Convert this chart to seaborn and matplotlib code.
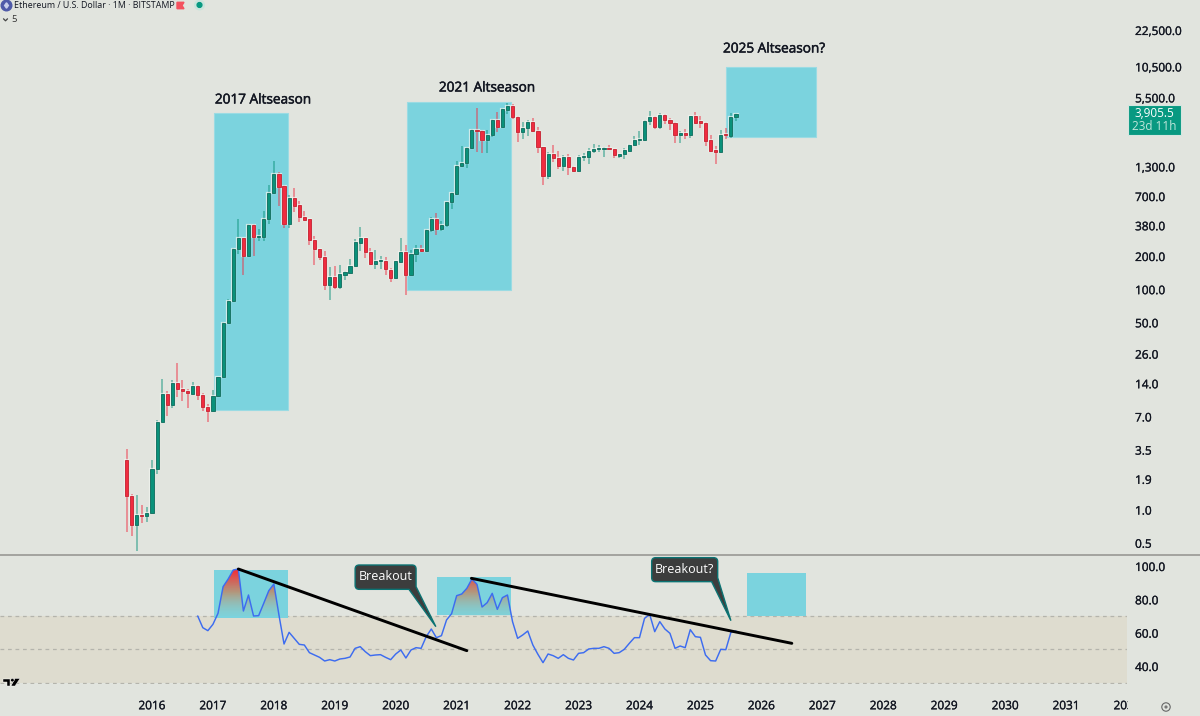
"""Ethereum monthly candles with RSI pane, TradingView style."""

import matplotlib

matplotlib.use("Agg")
import matplotlib.patheffects as pe
import matplotlib.pyplot as plt
import numpy as np
import pandas as pd
import seaborn as sns
from matplotlib.colors import LinearSegmentedColormap
from matplotlib.patches import Circle, PathPatch, Polygon, Rectangle
from matplotlib.path import Path
from matplotlib.transforms import Bbox

BG = "#e1e4de"
BAND = "#dedccf"
ZONE = "#7bd3de"
UP, UP_EDGE = "#0a917a", "#0b6a5a"
DOWN, DOWN_EDGE = "#f02c40", "#c4202f"
TEXT = "#131722"

# months counted from Jan 2016
first_candle_month = -5
first_rsi_month = 9

opens = [2.82, 1.33, 0.72, 0.90, 0.87, 0.93, 2.35, 6.28, 11.3, 8.8, 14.1, 12.5, 12.0, 11.3, 13.2, 10.9, 8.6, 7.9, 10.7, 15.8,
         49.5, 78.5, 232, 292, 199, 386, 298, 300, 430, 745, 1120, 862, 390, 670, 578, 453, 430, 280, 232, 197,
         110, 130, 105, 135, 141, 163, 264, 292, 219, 170, 179, 181, 150, 126, 178, 218, 135, 207, 230, 222,
         345, 434, 354, 386, 617, 738, 1310, 1400, 1900, 2784, 2710, 2260, 2500, 3430, 2970, 4230, 4620, 3680, 2670, 2910,
         3290, 2740, 1940, 1070, 1680, 1550, 1320, 1570, 1285, 1190, 1580, 1590, 1780, 1860, 1870, 1920, 1860, 1620, 1670, 1780,
         2030, 2250, 2260, 3340, 3660, 2970, 3790, 3430, 3230, 2520, 2600, 2500, 3730, 3340, 3250, 2250, 1820, 1770, 2540, 2470,
         3680]
closes = [1.33, 0.72, 0.90, 0.87, 0.93, 2.35, 6.28, 11.3, 8.8, 14.1, 12.3, 11.8, 11.5, 13.2, 10.9, 8.6, 7.9, 10.7, 15.8, 49.5,
          78.5, 232, 292, 199, 386, 300, 304, 434, 750, 1120, 851, 390, 670, 570, 453, 425, 278, 232, 197, 110,
          130, 105, 137, 143, 163, 268, 292, 219, 170, 181, 184, 151, 127, 179, 218, 135, 207, 230, 222, 345,
          434, 354, 386, 620, 745, 1310, 1410, 1920, 2784, 2710, 2260, 2520, 3430, 2970, 4310, 4620, 3660, 2670, 2910, 3290,
          2720, 1940, 1070, 1680, 1550, 1320, 1570, 1275, 1190, 1580, 1610, 1810, 1860, 1900, 1920, 1860, 1650, 1690, 1830, 2030,
          2260, 2300, 3340, 3630, 2970, 3790, 3400, 3210, 2520, 2600, 2520, 3730, 3250, 3250, 2220, 1780, 1770, 2520, 2490, 3680,
          3905.5]
highs = [3.57, 1.37, 1.35, 1.10, 1.05, 2.84, 6.55, 15.3, 11.8, 15.1, 21.5, 14.9, 12.5, 14.4, 13.6, 11.5, 9.0, 12.1, 16.0, 50,
         81.7, 237, 430, 292, 391, 391, 354, 517, 890, 1450, 1150, 875, 710, 830, 632, 513, 430, 304, 232, 223,
         160, 163, 165, 147, 187, 286, 370, 292, 237, 226, 202, 195, 155, 181, 291, 253, 227, 253, 253, 352,
         455, 488, 418, 620, 765, 1470, 1990, 1950, 2840, 4400, 2784, 2784, 3500, 4080, 4400, 4930, 4800, 3740, 3290, 3430,
         3580, 2970, 1950, 1770, 2030, 1800, 1650, 1680, 1320, 1650, 1715, 1920, 2060, 2030, 1950, 2030, 1870, 1700, 1900, 2060,
         2470, 2700, 3430, 4150, 3740, 3960, 3890, 3570, 3290, 2740, 2830, 3730, 4080, 3730, 3300, 2520, 1990, 2784, 2880, 3960,
         4000]
lows = [0.63, 0.57, 0.425, 0.75, 0.77, 0.93, 2.12, 6.28, 7.1, 8.4, 10.6, 9.7, 8.4, 11.3, 9.9, 7.9, 6.2, 7.9, 10.5, 15.5,
        49.5, 77, 208, 135, 199, 199, 275, 276, 390, 745, 570, 360, 360, 505, 408, 420, 253, 167, 185, 98.7,
        80, 101, 100, 122, 141, 163, 220, 192, 165, 153, 153, 135, 117, 126, 178, 89, 135, 176, 218, 222,
        327, 312, 335, 368, 535, 715, 1310, 1260, 1865, 1740, 1715, 1715, 2400, 2650, 2900, 3920, 3480, 2180, 2300, 2440,
        2720, 1715, 885, 1005, 1440, 1225, 1170, 1080, 1150, 1185, 1470, 1370, 1715, 1740, 1590, 1834, 1540, 1540, 1510, 1760,
        1990, 2040, 2220, 3060, 2850, 2820, 3150, 2784, 2110, 2110, 2300, 2340, 3140, 2880, 2000, 1760, 1380, 1770, 2300, 2370,
        3340]

rsi_values = [70.0, 63.0, 61.2, 65.0, 71.6, 87.6, 92.2, 97.6, 98.2, 73.0, 82.6, 70.0, 70.2, 77.6, 85.2, 89.2, 70.6, 53.2, 60.2, 56.6,
              53.0, 52.6, 48.0, 46.6, 45.2, 43.0, 43.8, 43.0, 44.2, 44.6, 45.4, 50.6, 51.6, 48.6, 46.2, 46.6, 46.8, 45.2, 43.8, 47.2,
              49.6, 44.8, 49.6, 51.0, 50.6, 57.6, 62.2, 57.0, 58.2, 67.6, 71.4, 82.2, 83.2, 86.6, 92.2, 89.0, 75.4, 78.0, 83.6, 74.0,
              81.0, 82.6, 66.6, 56.6, 58.6, 61.0, 52.6, 47.0, 42.0, 47.2, 46.2, 44.6, 46.8, 44.6, 43.6, 47.6, 48.0, 50.2, 50.6, 50.6,
              51.6, 50.6, 47.6, 48.0, 50.0, 53.6, 57.0, 57.0, 68.6, 71.0, 60.6, 66.6, 62.2, 59.6, 50.6, 52.0, 51.0, 61.8, 57.6, 57.2,
              46.6, 43.2, 43.0, 50.0, 49.8, 60.2, 61.0]

price_ticks = [22500, 10500, 5500, 1300, 700, 380, 200, 100, 50, 26, 14, 7, 3.5, 1.9, 1, 0.5]
rsi_ticks = [100, 80, 60, 40]
year_labels = [str(y) for y in range(2016, 2033)]

# zones: month start, month end, low, high
price_zones = [(12.2, 26.8, 8.07, 3970), (50.2, 70.7, 98.7, 4994), (113, 130.8, 2405, 10375)]
rsi_zones = [(12.2, 26.8, 68.6, 97.6), (56.1, 70.7, 70.6, 93.4), (117.1, 128.7, 70.2, 95.6)]
# trendlines: month, rsi, month, rsi
trendlines = [(17, 98.2, 62, 49.2), (62.9, 92.6, 126, 53.6)]


def callout_path(x0, x1, top, bottom, tip, base_x, side_y, rx=0.8, ry=2.4):
    """Rounded speech box whose tail leaves the lower right corner."""
    verts = [(x0 + rx, top), (x1 - rx, top), (x1, top), (x1, top - ry), (x1, side_y), tip, (base_x, bottom),
             (x0 + rx, bottom), (x0, bottom), (x0, bottom + ry), (x0, top - ry), (x0, top), (x0 + rx, top), (x0 + rx, top)]
    codes = [Path.MOVETO, Path.LINETO, Path.CURVE3, Path.CURVE3, Path.LINETO, Path.LINETO, Path.LINETO,
             Path.LINETO, Path.CURVE3, Path.CURVE3, Path.LINETO, Path.CURVE3, Path.CURVE3, Path.CLOSEPOLY]
    return Path(verts, codes)


def main():
    sns.set_theme(style="white", rc={"figure.facecolor": BG, "axes.facecolor": BG})
    plt.rcParams["font.family"] = ["Open Sans", "DejaVu Sans"]
    bold = [pe.withStroke(linewidth=0.35, foreground=TEXT)]

    candles = pd.DataFrame({"open": opens, "close": closes, "high": highs, "low": lows})
    candles["month"] = first_candle_month + np.arange(len(candles))
    candles["up"] = candles["close"] >= candles["open"]
    rsi = pd.DataFrame({"rsi": rsi_values})
    rsi["month"] = first_rsi_month + np.arange(len(rsi))

    fig = plt.figure(figsize=(12, 7.16), dpi=100)
    ax = fig.add_axes([0, 1 - 555 / 716, 1127 / 1200, 555 / 716])
    low_ax = fig.add_axes([0, 1 - 684 / 716, 1127 / 1200, 128 / 716], sharex=ax)

    # price pane
    ax.set_yscale("log")
    for x0, x1, lo, hi in price_zones:
        ax.add_patch(Rectangle((x0, lo), x1 - x0, hi - lo, facecolor=ZONE, edgecolor="#9adbe3", lw=0.8, zorder=1))
    wick_colors = np.where(candles["up"], UP, DOWN)
    ax.vlines(candles["month"], candles["low"], candles["high"], colors=wick_colors, lw=1.3, alpha=0.5, zorder=2)
    body_low = candles[["open", "close"]].min(axis=1)
    body_high = candles[["open", "close"]].max(axis=1)
    # pale halo around the bodies, as in the sharpened screenshot
    ax.bar(candles["month"], body_high - body_low, bottom=body_low, width=0.62,
           color="none", edgecolor="#f2f4f0", lw=1.6, alpha=0.7, zorder=2.5)
    ax.bar(candles["month"], body_high - body_low, bottom=body_low, width=0.62,
           color=np.where(candles["up"], UP, DOWN), edgecolor=np.where(candles["up"], UP_EDGE, DOWN_EDGE),
           lw=0.6, zorder=3)
    ax.set_xlim(-152 / 5.078, 975 / 5.078)
    ax.set_ylim(0.387, 42070)
    ax.set_yticks(price_ticks)
    ax.set_yticklabels([f"{v:,.1f}" for v in price_ticks])
    ax.minorticks_off()
    ax.yaxis.set_ticks_position("right")
    ax.tick_params(axis="y", length=0, pad=5.8, labelsize=8.5, labelcolor=TEXT)
    ax.tick_params(axis="x", bottom=False, labelbottom=False)
    sns.despine(ax=ax, left=True, right=True, top=True, bottom=True)

    # rsi pane
    low_ax.axhspan(30, 70, color=BAND, lw=0, zorder=0)
    for level in (70, 50, 30):
        low_ax.axhline(level, color="#b4b4ac", lw=0.9, ls=(0, (3, 3)), zorder=0.5)
    for x0, x1, lo, hi in rsi_zones:
        low_ax.add_patch(Rectangle((x0, lo), x1 - x0, hi - lo, facecolor=ZONE, edgecolor="none", zorder=1))

    # overbought gradient under the line
    fill = low_ax.fill_between(rsi["month"], rsi["rsi"], 70, where=rsi["rsi"] >= 70, interpolate=True,
                               color="none", zorder=1)
    grad_cmap = LinearSegmentedColormap.from_list(
        "ob", [(0.55, 0.80, 0.78, 0.2), (0.72, 0.58, 0.46, 0.92), (0.96, 0.16, 0.20, 1.0)])
    grad = low_ax.imshow(np.linspace(1, 0, 128).reshape(-1, 1), cmap=grad_cmap, aspect="auto",
                         extent=(first_rsi_month, 120, 70, 98), zorder=2)
    grad.set_clip_path(Path.make_compound_path(*fill.get_paths()), transform=low_ax.transData)

    sns.lineplot(data=rsi, x="month", y="rsi", ax=low_ax, color="#3d6cf0", lw=1.05, zorder=3, estimator=None)
    for x0, v0, x1, v1 in trendlines:
        low_ax.plot([x0, x1], [v0, v1], color="black", lw=2.1, solid_capstyle="round", zorder=4)

    for path, cx, cy, label in [
        (callout_path(40.0, 52.0, 100.6, 86.0, (55.9, 63.6), 50.6, 87.6), 46.0, 93.4, "Breakout"),
        (callout_path(98.4, 111.4, 105.0, 90.6, (114.0, 67.2), 110.2, 93.0), 104.9, 97.8, "Breakout?"),
    ]:
        low_ax.add_patch(PathPatch(path, facecolor="#3c3d3d", edgecolor="#0b7373", lw=1.0, zorder=5))
        low_ax.text(cx, cy, label, color="white", fontsize=9.0, ha="center", va="center", zorder=6)

    low_ax.set_xlim(-152 / 5.078, 975 / 5.078)
    low_ax.set_ylim(29.2, 106)
    low_ax.set_xlabel("")
    low_ax.set_ylabel("")
    low_ax.set_yticks(rsi_ticks)
    low_ax.set_yticklabels([f"{v:.1f}" for v in rsi_ticks])
    low_ax.yaxis.set_ticks_position("right")
    low_ax.tick_params(axis="y", length=0, pad=5.8, labelsize=8.5, labelcolor=TEXT)
    low_ax.set_xticks(np.arange(len(year_labels)) * 12)
    low_ax.set_xticklabels(year_labels)
    low_ax.tick_params(axis="x", length=0, pad=11, labelsize=8.5, labelcolor=TEXT)
    sns.despine(ax=low_ax, left=True, right=True, top=True, bottom=True)
    # last year label runs into the price scale and gets cut
    clip = Bbox([[0, 0], [1128, 716]])
    for label in low_ax.get_xticklabels():
        label.set_clip_on(True)
        label.set_clip_box(clip)
    for label in low_ax.get_xticklabels() + low_ax.get_yticklabels() + ax.get_yticklabels():
        label.set_path_effects([pe.withStroke(linewidth=0.2, foreground=TEXT)])

    # chrome drawn in pixel coordinates
    over = fig.add_axes([0, 0, 1, 1], zorder=10)
    over.set_xlim(0, 1200)
    over.set_ylim(716, 0)
    over.axis("off")
    over.patch.set_alpha(0)
    over.plot([0, 1200], [555, 555], color="#a3a39f", lw=1.4)

    for x, y, label in [(263, 100, "2017 Altseason"), (487, 88, "2021 Altseason"), (774, 49, "2025 Altseason?")]:
        over.text(x, y, label, color=TEXT, fontsize=9.8, ha="center", va="center", path_effects=bold)

    over.add_patch(Circle((6.5, 5.5), 5.3, color="#4f5aa8"))
    over.add_patch(Polygon([(6.5, 2.8), (8.4, 5.5), (6.5, 8.2), (4.6, 5.5)], color="#c9cfea"))
    over.text(14, 5.5, "Ethereum / U.S. Dollar · 1M · BITSTAMP", color=TEXT, fontsize=6.4, ha="left", va="center")
    over.add_patch(Polygon([(177, 2.3), (184, 2.3), (182, 5.5), (184, 8.7), (177, 8.7)], color="#f4525f"))
    over.add_patch(Circle((199.5, 5), 4.8, color="#c9e4dc"))
    over.add_patch(Circle((199.5, 5), 2.4, color="#089981"))
    over.plot([3.5, 5.5, 7.5], [18.8, 20.8, 18.8], color="#444", lw=0.9)
    over.text(11, 19.8, "5", color="#333", fontsize=6.8, ha="left", va="center")

    over.add_patch(Rectangle((1128, 105.3), 52.7, 29.7, facecolor="#089981", edgecolor="#d5e6e0", lw=0.8))
    over.text(1154.5, 113.5, "3,905.5", color="white", fontsize=8.5, ha="center", va="center")
    over.text(1154.5, 126.5, "23d 11h", color="#bfe6db", fontsize=8.5, ha="center", va="center")

    # TradingView mark
    logo = [
        Polygon([(3.3, 678.5), (10, 678.5), (10, 686), (6.7, 686), (6.7, 681.7), (3.3, 681.7)]),
        Polygon([(15, 678.5), (20, 678.5), (15, 686), (11, 686)]),
        Circle((12.4, 680.2), 1.7),
    ]
    for part in logo:
        part.set(facecolor="black", edgecolor="white", lw=0.3)
        over.add_patch(part)

    over.add_patch(Circle((1166, 707), 4.2, facecolor="none", edgecolor="#666", lw=0.8))
    over.add_patch(Circle((1166, 707), 1.6, facecolor="#777", edgecolor="none"))

    fig.savefig("out.png", dpi=100, facecolor=BG)


if __name__ == "__main__":
    main()
